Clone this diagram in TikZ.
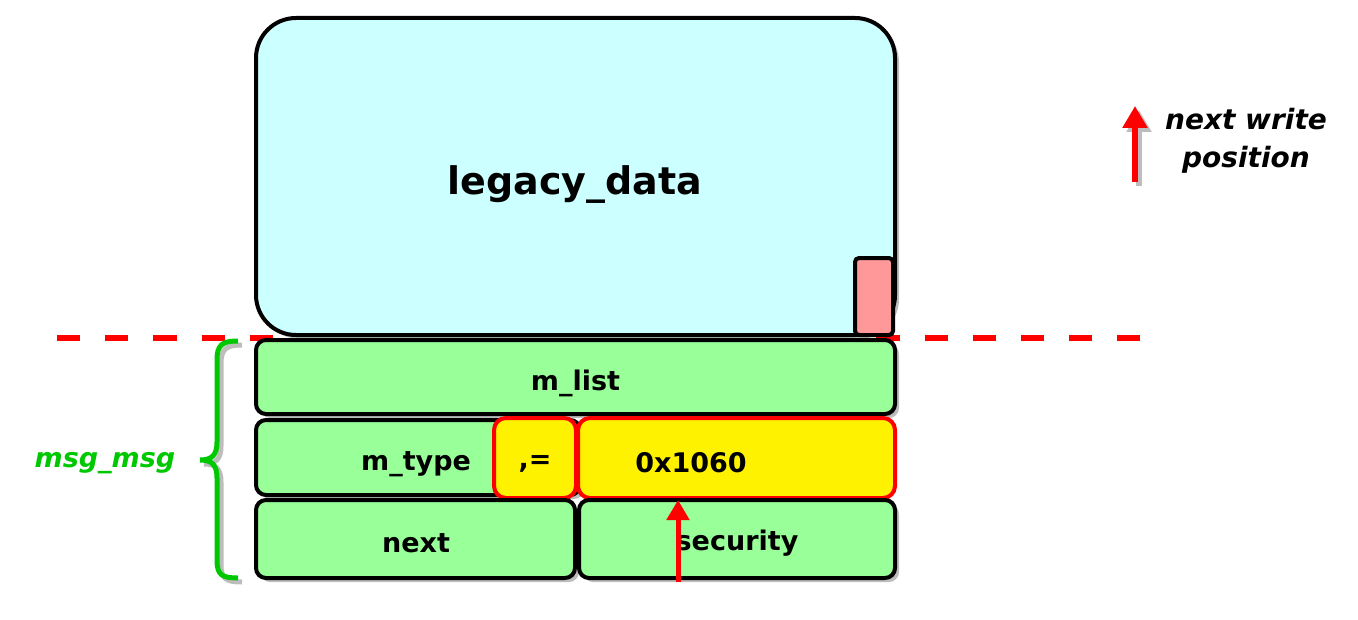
\documentclass[tikz,border=0pt]{standalone}
\usepackage{fontspec}
\setmainfont{DejaVu Sans}
\usetikzlibrary{arrows.meta,shadows}
\definecolor{cyanfill}{HTML}{CCFFFF}
\definecolor{boxgreen}{HTML}{99FF99}
\definecolor{pinkfill}{HTML}{FF9999}
\definecolor{bracegreen}{RGB}{0,200,0}
\definecolor{shadowgray}{HTML}{BDBDBD}
\tikzset{
  box/.style={draw=black, line width=2pt, rounded corners=5pt, inner sep=0pt,
    drop shadow={shadow xshift=2pt, shadow yshift=-2pt, fill=shadowgray, opacity=1}},
  greenbox/.style={box, fill=boxgreen},
  yellowbox/.style={draw=red, line width=2pt, rounded corners=6pt, fill=yellow, inner sep=0pt},
  lbl/.style={font=\bfseries\fontsize{13.5}{16}\selectfont, inner sep=0pt},
  redarrow/.style={draw=red, line width=2.5pt, -{Triangle[width=11pt,length=10pt]}},
  bigarrow/.style={draw=red, line width=3pt, -{Triangle[width=12pt,length=11pt]}},
  shadowarrow/.style={draw=shadowgray, line width=3pt, -{Triangle[width=12pt,length=11pt]},
    transform canvas={xshift=2pt, yshift=-2pt}},
  dashline/.style={draw=red, line width=3pt, dash pattern=on 11.6pt off 12.5pt},
}
\begin{document}
\begin{tikzpicture}[x=0.5pt,y=-0.5pt]
\useasboundingbox (0,0) rectangle (1358,620);
% dashed line
\coordinate (dashL) at (57,338);
\coordinate (dashR) at (1140,338);
\draw[dashline] (dashL) -- (dashR);
% legacy data
\node[box, fill=cyanfill, rounded corners=20pt, minimum width=319.5pt, minimum height=158.5pt] (legacy) at (575.5,176.5) {};
\node[lbl, font=\bfseries\fontsize{19}{22}\selectfont] (legacytext) at (575,185) {legacy\_data};
\node[draw=black, line width=2pt, fill=pinkfill, rounded corners=2pt, minimum width=19pt, minimum height=38.5pt, inner sep=0pt] (pink) at (874,296.5) {};
% rows
\node[greenbox, minimum width=319.5pt, minimum height=37pt] (mlist) at (575.5,377) {};
\node[lbl] (mlisttext) at (575.5,383) {m\_list};
\node[greenbox, minimum width=162pt, minimum height=37.5pt] (mtype) at (418,457.5) {};
\node[lbl] (mtypetext) at (416,464) {m\_type};
\node[yellowbox, minimum width=41pt, minimum height=40pt] (comma) at (535,458) {};
\node[lbl] (commatext) at (535,464) {,=};
\node[yellowbox, minimum width=158.5pt, minimum height=40pt] (val) at (736.5,458) {};
\node[lbl] (valtext) at (691,463) {0x1060};
\node[greenbox, minimum width=159.5pt, minimum height=39pt] (next) at (415.5,539) {};
\node[lbl] (nexttext) at (416,543) {next};
\node[greenbox, minimum width=158pt, minimum height=39pt] (security) at (737,539) {};
\node[lbl] (securitytext) at (737,543) {security};
% write arrow
\coordinate (wtail) at (678,582);
\draw[redarrow] (wtail) -- (wtail |- val.south);
% brace
\draw[draw=shadowgray, line width=2.5pt, shift={(4,4)}]
  (238,341) .. controls (222,341) and (217,345) .. (217,360) -- (217,442)
  .. controls (217,455) and (212,460) .. (200,460)
  .. controls (212,460) and (217,465) .. (217,478) -- (217,560)
  .. controls (217,575) and (222,578) .. (238,578);
\draw[draw=bracegreen, line width=2.5pt]
  (238,341) .. controls (222,341) and (217,345) .. (217,360) -- (217,442)
  .. controls (217,455) and (212,460) .. (200,460)
  .. controls (212,460) and (217,465) .. (217,478) -- (217,560)
  .. controls (217,575) and (222,578) .. (238,578);
\node[font=\bfseries\itshape\fontsize{13.5}{16}\selectfont, text=bracegreen, inner sep=0pt] (msgmsg) at (105,463) {msg\_msg};
% legend
\coordinate (legtail) at (1135,182);
\coordinate (leghead) at (1135,106);
\draw[shadowarrow] (legtail) -- (leghead);
\draw[bigarrow] (legtail) -- (leghead);
\node[font=\bfseries\itshape\fontsize{14}{19}\selectfont, align=center, inner sep=0pt] (legtext) at (1246,141) {next write\\position};
\end{tikzpicture}
\end{document}
